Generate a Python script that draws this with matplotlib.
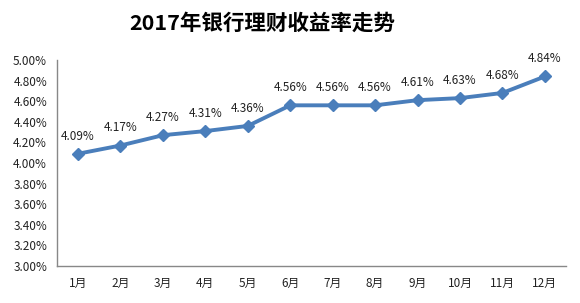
import matplotlib
matplotlib.use("Agg")
import matplotlib.pyplot as plt
from matplotlib.ticker import FuncFormatter

plt.rcParams['font.family'] = ['Noto Sans CJK SC', 'DejaVu Sans']

# === Data ===
months = ["1月", "2月", "3月", "4月", "5月", "6月", "7月", "8月", "9月", "10月", "11月", "12月"]
rates = [4.09, 4.17, 4.27, 4.31, 4.36, 4.56, 4.56, 4.56, 4.61, 4.63, 4.68, 4.84]
title = "2017年银行理财收益率走势"

# === Plot ===
fig = plt.figure(figsize=(5.8, 3.03), dpi=100)
ax = fig.add_axes([0.098, 0.122, 0.878, 0.68])

x = list(range(len(months)))
ax.plot(x, rates, color='#4A7EBB', linewidth=2.8, marker='D', markersize=6,
        markeredgecolor='#4A7EBB', markerfacecolor='#4A7EBB')

for xi, yi in zip(x, rates):
    ax.annotate(f"{yi:.2f}%", (xi, yi), xytext=(0, 8), textcoords='offset points',
                ha='center', va='bottom', fontsize=8.5, color='#222222')

ax.set_xlim(-0.5, len(months) - 0.5)
ax.set_ylim(3.0, 5.0)
ax.set_yticks([3.0 + 0.2 * i for i in range(11)])
ax.yaxis.set_major_formatter(FuncFormatter(lambda v, p: f"{v:.2f}%"))
ax.set_xticks(x)
ax.set_xticklabels(months)

for s in ['top', 'right']:
    ax.spines[s].set_visible(False)
for s in ['left', 'bottom']:
    ax.spines[s].set_color('#888888')
    ax.spines[s].set_linewidth(1)

ax.tick_params(axis='both', length=0, labelsize=8.5, colors='#222222')
ax.tick_params(axis='y', pad=7)
ax.tick_params(axis='x', pad=8)

fig.text(0.452, 0.925, title, ha='center', va='center', fontsize=15.5, fontweight='bold')

fig.savefig("out.png", dpi=100)
